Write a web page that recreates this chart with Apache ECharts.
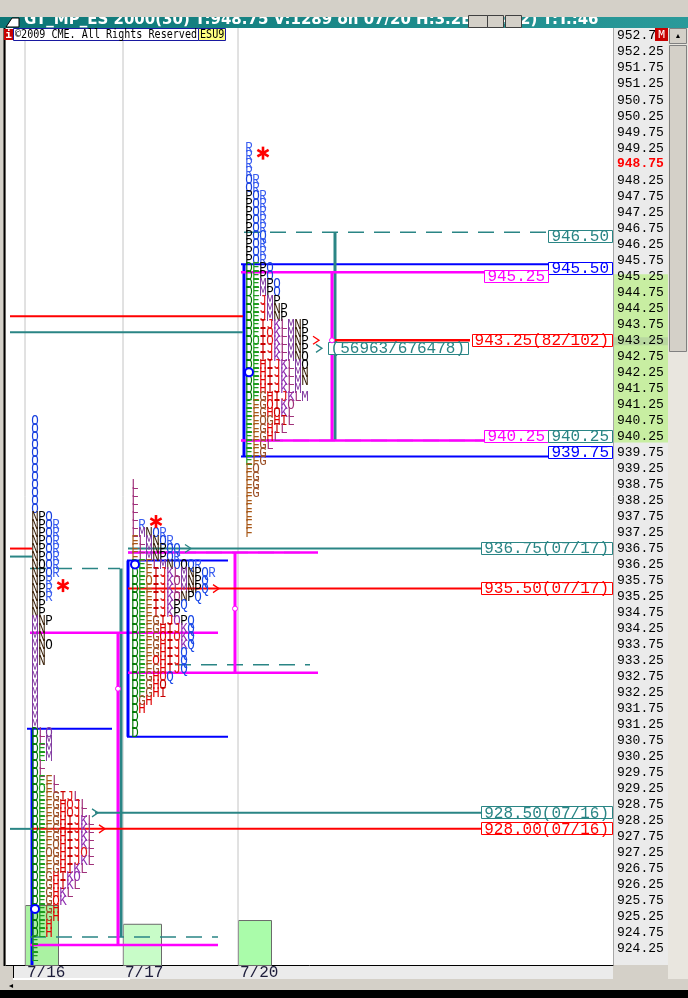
<!DOCTYPE html>
<html><head><meta charset="utf-8">
<script src="https://cdn.jsdelivr.net/npm/echarts@6/dist/echarts.min.js"></script>
<style>html,body{margin:0;padding:0;background:#d4d0c8;overflow:hidden}#chart{width:688px;height:998px}</style>
</head><body><div id="chart"></div>
<script>
// ================= DATA =================
const dates = ['7/16', '7/17', '7/20'];
const tpoTop = [940.75, 938.75, 949.25];          // highest TPO row of each session
const tpo0716 = ['O','O','O','O','O','O','O','O','O','O','O','O',
  'NPO','NPOR','NPOR','NPOR','NPOR','NPOR','NpOR','NPOR','NPR','NPR','NPR','NP','NP','MNP','MN','MN','MNp','MN','MN',
  'M','M','M','M','M','M','M','M',
  'DLm','DLM','DEM','DEM','DL','DL','DEFL','DeFL','DEFGIJL','DEFGHjJL','DEFGHjJL','DEFGHIJKL','DEFGHIJKL','DEFGHIJKL',
  'DEFgHIJKL','DEgGHIJjL','DEFGHIJKL','DEFGHIKL','DEGHIKk','DEGHIKL','DEGHKL','DEGhK','DEGH','DEGH','DEH','DEH','E','E','E'];
const tpo0717 = ['L','L','L','L','L','LR','LMNOR','FLMNOR','FLMNPOQ','FLMNPOR','DEFLMNOpQR','DEFIJKLMNPQR','DEfIJKlMNPQ',
  'DEFIJKLMNPQ','DEFIJKlNPQ','DEFIJKPQ','DEFIJKP','DEFGIJkPQ','DEFGHIJKQ','DEFGhIjKQ','DEFGHIJKQ','DEFGHIJQ','DEFhHIJQ',
  'DEFGHIJQ','DEGHjQ','DEGHi','DEGHI','DGH','DH','D','D','D'];
const tpo0720 = ['R','R','R','R','OR','OR','POR','POR','POR','POR','POR','POQ','POR','POR','POR',
  'DEPO','DEPO','DEMPO','DEMPO','DEJMP','DEJMNP','DEJMNP','DEIJKLMNP','DEIjKLMNP','DeIjKLMNP','DEIJKLMNP','DEIJKLMNp',
  'DEHIJKLMp','DEHIJKLMN','DEHIJKLMN','DEHIJKLM','DEGHIJKLM','EFGhIKl','EFGHiKL','EFgGHIL','EFGHIL','EFGHL','EFGL','EFG',
  'EFG','Fg','FG','FG','FG','F','F','F','F','F'];
const ibHigh  = [931.00, 936.25, 945.50];
const ibLow   = [null,   931.00, 939.75];
const vaHigh  = [934.00, 936.50, 945.25];
const vaLow   = [924.50, 933.00, 940.25];
const vvaHigh = [936.00, 936.50, 946.50];
const vvaLow  = [924.75, 933.25, 940.25];
const pocs    = [928.00, 935.50, 943.25];
const opens   = [925.50, 936.25, 942.25];
const closes  = [935.50, 937.50, 949.00];
const volumes = [6.4, 4.4, 4.8];
const nakedLevels = [936.75, 935.50, 928.50, 928.00];
const nakedTags   = ['(07/17)', '(07/17)', '(07/16)', '(07/16)'];
const nakedDay    = [1, 1, 0, 0];
const stubLevels  = [944.00, 943.50, 936.75, 936.50, 928.00];
const pocCount    = '(82/102)';
const volPocLevel = 943.00;
const volPocText  = '(56963/676478)';
const lastPrice   = 948.75;
const yMin = 923.75, yMax = 953.00, tickStep = 0.5;

// ================= STYLE / LAYOUT =================
const BLUE = '#0000ff', MAG = '#ff00ff', TEAL = '#2a8585', RED = '#ff0000', SEP = '#c4c4c4';
const COL = {D:'#007800', E:'#1f9c1f', F:'#a85818', G:'#9c5028', H:'#e00000', I:'#c80000', J:'#e01818',
  K:'#9030b0', L:'#a0307a', M:'#8038a0', N:'#3a2008', O:'#1840e0', P:'#000000', Q:'#1848e8', R:'#3a5ef0'};
const L = {
  sep: [25, 123, 238], tpo0: [35, 135, 249], pitch: 7, half: 0.125,
  ibX: [32, 128, 244], ibL: [27, 127, 241], ibR: [112, 228, 548],
  vaX: [118, 235, 332], vaL: [30, 128, 241], vaR: [218, 318, 485],
  vvaX: [121, null, 335], vvaTopL: [30, 128, 244], vvaTopR: [120, 310, 548], vvaBotL: [30, 175, 241], vvaBotR: [218, 310, 548],
  pocL: 331, pocR: 470,
  nakedL: [128, 128, 95, 32], nakedC: [TEAL, RED, TEAL, RED],
  stubL: 10, stubR: [243, 243, 32, 32, 32], stubC: [RED, TEAL, RED, TEAL, TEAL],
  volW: [33, 38, 33], volC: ['#aaf2a2', '#c8fcc8', '#aafcaa'],
  labelRight: 612, labelRightInner: 548, charW: 9.6, volPocX: 322, volPocR: 468
};
const E = L.half;

// TPO glyphs
const tpoRows = [tpo0716, tpo0717, tpo0720];
const tpoItems = [];
tpoRows.forEach((rows, d) => rows.forEach((s, r) => {
  const p = tpoTop[d] - r * 0.25;
  for (let k = 0; k < s.length; k++) {
    const ch = s[k], up = ch.toUpperCase();
    tpoItems.push({x: L.tpo0[d] + k * L.pitch, p: p, g: ch === up ? ch : 'O', c: COL[up]});
  }
}));
function rowLen(d, p) { const i = Math.round((tpoTop[d] - p) / 0.25); return tpoRows[d][i] ? tpoRows[d][i].length : 0; }

// line segments
const segs = [];
function hs(p, x1, x2, c, w, d) { segs.push({x1, x2, p1: p, p2: p, c, w, d}); }
function vs(x, p1, p2, c, w) { segs.push({x1: x, x2: x, p1, p2, c, w}); }
L.sep.forEach(x => vs(x, yMin, yMax, SEP, 1));
for (let d = 0; d < 3; d++) {
  const lo = ibLow[d] === null ? yMin : ibLow[d] - E;
  vs(L.ibX[d], ibHigh[d] + E, lo, BLUE, 3);
  hs(ibHigh[d] + E, L.ibL[d], L.ibR[d], BLUE, 2);
  if (ibLow[d] !== null) hs(ibLow[d] - E, L.ibL[d], L.ibR[d], BLUE, 2);
  hs(vvaHigh[d] + E, L.vvaTopL[d], L.vvaTopR[d], TEAL, 1.5, true);
  hs(vvaLow[d] - E, L.vvaBotL[d], L.vvaBotR[d], TEAL, 1.5, true);
  if (L.vvaX[d] !== null) vs(L.vvaX[d], vvaHigh[d] + E, vvaLow[d] - E, TEAL, 3);
  hs(vaHigh[d] + E, L.vaL[d], L.vaR[d], MAG, 2.5);
  hs(vaLow[d] - E, L.vaL[d], L.vaR[d], MAG, 2.5);
  vs(L.vaX[d], vaHigh[d] + E, vaLow[d] - E, MAG, 3);
}
stubLevels.forEach((p, i) => hs(p, L.stubL, L.stubR[i], L.stubC[i], 2));
const labels = [];
const markers = [];
nakedLevels.forEach((p, i) => {
  const t = p.toFixed(2) + nakedTags[i];
  const w = t.length * L.charW + 6;
  hs(p, L.nakedL[i], L.labelRight - w, L.nakedC[i], 2);
  labels.push({p, t, c: L.nakedC[i], r: L.labelRight});
  const d = nakedDay[i];
  markers.push({k: 'arrow', x: L.tpo0[d] + rowLen(d, p) * L.pitch, p, c: L.nakedC[i]});
});
hs(pocs[2], L.pocL, L.pocR, RED, 2.5);
markers.push({k: 'arrow', x: L.tpo0[2] + rowLen(2, pocs[2]) * L.pitch, p: pocs[2], c: RED});
markers.push({k: 'arrow', x: L.tpo0[2] + rowLen(2, volPocLevel) * L.pitch + 3, p: volPocLevel, c: TEAL});
labels.push({p: vvaHigh[2], t: vvaHigh[2].toFixed(2), c: TEAL, r: L.labelRight});
labels.push({p: ibHigh[2], t: ibHigh[2].toFixed(2), c: BLUE, r: L.labelRight});
labels.push({p: vaHigh[2], t: vaHigh[2].toFixed(2), c: MAG, r: L.labelRightInner});
labels.push({p: pocs[2], t: pocs[2].toFixed(2) + pocCount, c: RED, r: L.labelRight});
labels.push({p: vaLow[2], t: vaLow[2].toFixed(2), c: MAG, r: L.labelRightInner});
labels.push({p: vvaLow[2], t: vvaLow[2].toFixed(2), c: TEAL, r: L.labelRight});
labels.push({p: ibLow[2], t: ibLow[2].toFixed(2), c: BLUE, r: L.labelRight});
labels.push({p: volPocLevel, t: volPocText, c: TEAL, r: L.volPocR});

// markers
for (let d = 0; d < 3; d++) {
  const rows = tpoRows[d];
  const low = tpoTop[d] - (rows.length - 1) * 0.25;
  markers.push({k: 'mid', x: L.vaX[d], p: (tpoTop[d] + low) / 2});
  markers.push({k: 'open', x: L.tpo0[d], p: opens[d]});
  markers.push({k: 'star', x: L.tpo0[d] + (rowLen(d, closes[d]) + 1) * L.pitch, p: closes[d]});
}

// ================= CHART =================
const chart = echarts.init(document.getElementById('chart'));
const MONO = 'Liberation Mono';
function fade(hex, a) {
  const n = parseInt(hex.slice(1), 16);
  return 'rgba(' + (n >> 16) + ',' + ((n >> 8) & 255) + ',' + (n & 255) + ',' + a + ')';
}
const option = {
  backgroundColor: '#d4d0c8',
  animation: false,
  grid: {left: 6, right: 75, top: 28, bottom: 33, show: true, backgroundColor: '#ffffff', borderWidth: 0},
  xAxis: {
    type: 'value', min: 6, max: 613,
    axisLine: {show: true, lineStyle: {color: '#000', width: 1}},
    axisTick: {show: false}, splitLine: {show: false},
    axisLabel: {
      customValues: L.sep, align: 'left', margin: 0, padding: [0, 0, 0, 2],
      fontFamily: MONO, fontSize: 16, color: '#1c1c3a',
      formatter: v => { const i = L.sep.indexOf(v); return i >= 0 ? dates[i] : ''; }
    }
  },
  yAxis: [{
    type: 'value', position: 'right', min: yMin, max: yMax, interval: tickStep,
    axisLine: {show: false}, axisTick: {show: false}, splitLine: {show: false},
    axisLabel: {
      showMinLabel: false, margin: 4, fontFamily: MONO, fontSize: 13, color: '#000',
      formatter: v => Math.abs(v - lastPrice) < 1e-6 ? '{r|' + v.toFixed(2) + '}' : v.toFixed(2),
      rich: {r: {color: '#ff0000', fontWeight: 'bold', fontFamily: MONO, fontSize: 13}}
    }
  }, {type: 'value', min: 0, max: 100, show: false}],
  series: [
    { // price-axis value-area band
      type: 'custom', z: -5, silent: true, data: [[613, vaHigh[2]]],
      renderItem: (params, api) => {
        const y1 = api.coord([613, vaHigh[2] + E])[1], y2 = api.coord([613, vaLow[2] - E])[1];
        const p1 = api.coord([613, pocs[2] + E])[1], p2 = api.coord([613, pocs[2] - E])[1];
        return {type: 'group', children: [
          {type: 'rect', shape: {x: 614, y: y1 + 2, width: 54, height: y2 - y1}, style: {fill: '#c8eea2'}},
          {type: 'rect', shape: {x: 614, y: p1 + 1, width: 54, height: p2 - p1}, style: {fill: '#b9d8a0'}}
        ]};
      }
    },
    { // volume histogram
      type: 'custom', yAxisIndex: 1, z: 1, silent: true,
      data: volumes.map((v, i) => [L.sep[i], v]),
      renderItem: (params, api) => {
        const i = params.dataIndex;
        const a = api.coord([L.sep[i], volumes[i]]), b = api.coord([L.sep[i] + L.volW[i], 0]);
        return {type: 'rect', shape: {x: a[0] + 0.5, y: a[1] + 0.5, width: b[0] - a[0], height: b[1] - a[1]},
          style: {fill: L.volC[i], stroke: '#6a6a6a', lineWidth: 1}};
      }
    },
    { // lines
      type: 'custom', z: 3, silent: true,
      data: segs.map(s => [s.x1, s.p1]),
      renderItem: (params, api) => {
        const s = segs[params.dataIndex];
        const a = api.coord([s.x1, s.p1]), b = api.coord([s.x2, s.p2]);
        return {type: 'line', shape: {x1: a[0], y1: a[1], x2: b[0], y2: b[1]},
          style: {stroke: s.c, lineWidth: s.w, lineDash: s.d ? [16, 10] : null}};
      }
    },
    { // TPO letters
      type: 'custom', z: 4, silent: true,
      data: tpoItems.map(t => [t.x, t.p]),
      renderItem: (params, api) => {
        const t = tpoItems[params.dataIndex];
        const pt = api.coord([t.x, t.p]);
        return {type: 'text', x: pt[0], y: pt[1] + 0.5, scaleY: 1.12,
          style: {text: t.g, fill: t.c, fontFamily: MONO, fontSize: 12.5, align: 'center', verticalAlign: 'middle',
            textShadowColor: fade(t.c, 0.4), textShadowOffsetX: 1, textShadowOffsetY: 0, textShadowBlur: 0}};
      }
    },
    { // boxed labels
      type: 'custom', z: 5, silent: true,
      data: labels.map(l => [l.r, l.p]),
      renderItem: (params, api) => {
        const l = labels[params.dataIndex];
        const y = api.coord([l.r, l.p])[1];
        const w = l.t.length * L.charW + 6, x = l.r - w;
        return {type: 'group', children: [
          {type: 'rect', shape: {x: Math.round(x) + 0.5, y: Math.round(y - 6.5) + 0.5, width: Math.round(w), height: 12},
            style: {fill: '#ffffff', stroke: l.c, lineWidth: 1}},
          {type: 'text', x: x + 3, y: y + 0.5, style: {text: l.t, fill: l.c, fontFamily: MONO, fontSize: 16, align: 'left', verticalAlign: 'middle'}}
        ]};
      }
    },
    { // markers: range midpoint, open, close star, row arrows
      type: 'custom', z: 6, silent: true,
      data: markers.map(m => [m.x, m.p]),
      renderItem: (params, api) => {
        const m = markers[params.dataIndex];
        const c = api.coord([m.x, m.p]);
        if (m.k === 'mid') return {type: 'circle', shape: {cx: c[0], cy: c[1], r: 2.5}, style: {fill: '#fff', stroke: MAG, lineWidth: 1}};
        if (m.k === 'open') return {type: 'circle', shape: {cx: c[0], cy: c[1], r: 4}, style: {fill: '#fff', stroke: BLUE, lineWidth: 2}};
        if (m.k === 'arrow') return {type: 'polyline', shape: {points: [[c[0] + 1, c[1] - 4], [c[0] + 7, c[1]], [c[0] + 1, c[1] + 4]]},
          style: {stroke: m.c, lineWidth: 1.3, fill: null}};
        const ch = [], R = 6.5, cy = c[1] - 3;
        [90, 30, 150].forEach(a => {
          const r = a * Math.PI / 180;
          ch.push({type: 'line', shape: {x1: c[0] - R * Math.cos(r), y1: cy - R * Math.sin(r), x2: c[0] + R * Math.cos(r), y2: cy + R * Math.sin(r)},
            style: {stroke: RED, lineWidth: 2.6}});
        });
        return {type: 'group', children: ch};
      }
    }
  ],
  graphic: [
    {type: 'rect', z: -10, silent: true, shape: {x: 613, y: 28, width: 55, height: 937}, style: {fill: '#ebebeb'}},
    {type: 'line', z: -9, silent: true, shape: {x1: 613.5, y1: 28, x2: 613.5, y2: 965}, style: {stroke: '#a8a8a8', lineWidth: 1}},
    {type: 'rect', z: -10, silent: true, shape: {x: 13, y: 966, width: 600, height: 13}, style: {fill: '#ebebeb'}},
    {type: 'line', z: 10, silent: true, shape: {x1: 13.5, y1: 966, x2: 13.5, y2: 979}, style: {stroke: '#000', lineWidth: 1}},
    {type: 'line', z: 10, silent: true, shape: {x1: 4.5, y1: 28, x2: 4.5, y2: 966}, style: {stroke: '#000', lineWidth: 2}},
    // bottom scrollbar
    {type: 'rect', z: 10, silent: true, shape: {x: 0, y: 979, width: 688, height: 11}, style: {fill: '#d4d0c8'}},
    {type: 'rect', z: 10, silent: true, shape: {x: 13, y: 978, width: 117, height: 2}, style: {fill: '#ffffff'}},
    {type: 'text', z: 11, silent: true, x: 11, y: 986, style: {text: '◄', fontSize: 7, fill: '#000', align: 'center', verticalAlign: 'middle'}},
    {type: 'rect', z: 10, silent: true, shape: {x: 0, y: 990, width: 688, height: 8}, style: {fill: '#000000'}},
    // right scrollbar
    {type: 'rect', z: 10, silent: true, shape: {x: 668, y: 28, width: 20, height: 951}, style: {fill: '#e9e6df'}},
    {type: 'rect', z: 11, silent: true, shape: {x: 669.5, y: 28.5, width: 17, height: 15}, style: {fill: '#d4d0c8', stroke: '#808080', lineWidth: 1}},
    {type: 'text', z: 12, silent: true, x: 678, y: 36, style: {text: '▲', fontSize: 7, fill: '#000', align: 'center', verticalAlign: 'middle'}},
    {type: 'rect', z: 11, silent: true, shape: {x: 669.5, y: 45.5, width: 17, height: 306}, style: {fill: '#d4d0c8', stroke: '#808080', lineWidth: 1}},
    // title bar
    {type: 'rect', z: 20, silent: true, shape: {x: 0, y: 17, width: 688, height: 11},
      style: {fill: new echarts.graphic.LinearGradient(0, 0, 1, 0, [{offset: 0, color: '#0c7676'}, {offset: 1, color: '#2a9a9a'}])}},
    {type: 'text', z: 21, silent: true, x: 24, y: 28, style: {text: 'GT_MP_ES 2000(30) T:948.75 V:1289 on 07/20 H:3.2E(32432) T:T.:46',
      fill: '#ffffff', fontFamily: 'DejaVu Sans', fontWeight: 'bold', fontSize: 15, align: 'left', verticalAlign: 'bottom'}},
    {type: 'polygon', z: 21, silent: true, shape: {points: [[6, 27], [12, 18], [19, 18], [19, 27]]}, style: {fill: '#ffffff', stroke: '#000', lineWidth: 1}},
    {type: 'rect', z: 22, silent: true, shape: {x: 0, y: 0, width: 688, height: 17}, style: {fill: '#d4d0c8'}},
    {type: 'rect', z: 23, silent: true, shape: {x: 468.5, y: 15.5, width: 19, height: 12}, style: {fill: '#d4d0c8', stroke: '#404040', lineWidth: 1}},
    {type: 'rect', z: 23, silent: true, shape: {x: 487.5, y: 15.5, width: 16, height: 12}, style: {fill: '#d4d0c8', stroke: '#404040', lineWidth: 1}},
    {type: 'rect', z: 23, silent: true, shape: {x: 505.5, y: 15.5, width: 16, height: 12}, style: {fill: '#d4d0c8', stroke: '#404040', lineWidth: 1}},
    // header row
    {type: 'rect', z: 20, silent: true, shape: {x: 4, y: 29, width: 9, height: 11}, style: {fill: '#c80000'}},
    {type: 'text', z: 21, silent: true, x: 8.5, y: 35, style: {text: 'i', fill: '#fff', fontFamily: 'DejaVu Sans Mono', fontWeight: 'bold', fontSize: 11, align: 'center', verticalAlign: 'middle'}},
    {type: 'rect', z: 20, silent: true, shape: {x: 13.5, y: 28.5, width: 185, height: 12}, style: {fill: '#ffffff', stroke: '#1818a0', lineWidth: 1}},
    {type: 'text', z: 21, silent: true, x: 15, y: 35, scaleX: 0.84, style: {text: '©2009 CME. All Rights Reserved', fill: '#000', fontFamily: 'DejaVu Sans Mono', fontSize: 12, align: 'left', verticalAlign: 'middle'}},
    {type: 'rect', z: 20, silent: true, shape: {x: 198.5, y: 28.5, width: 27, height: 12}, style: {fill: '#ffff80', stroke: '#1818a0', lineWidth: 1}},
    {type: 'text', z: 21, silent: true, x: 200, y: 35, scaleX: 0.84, style: {text: 'ESU9', fill: '#000', fontFamily: 'DejaVu Sans Mono', fontSize: 12, align: 'left', verticalAlign: 'middle'}},
    {type: 'rect', z: 20, silent: true, shape: {x: 655, y: 28, width: 13, height: 13}, style: {fill: '#c80000'}},
    {type: 'text', z: 21, silent: true, x: 661.5, y: 35, style: {text: 'M', fill: '#fff', fontFamily: 'DejaVu Sans Mono', fontSize: 11, align: 'center', verticalAlign: 'middle'}}
  ]
};
chart.setOption(option);
</script></body></html>
